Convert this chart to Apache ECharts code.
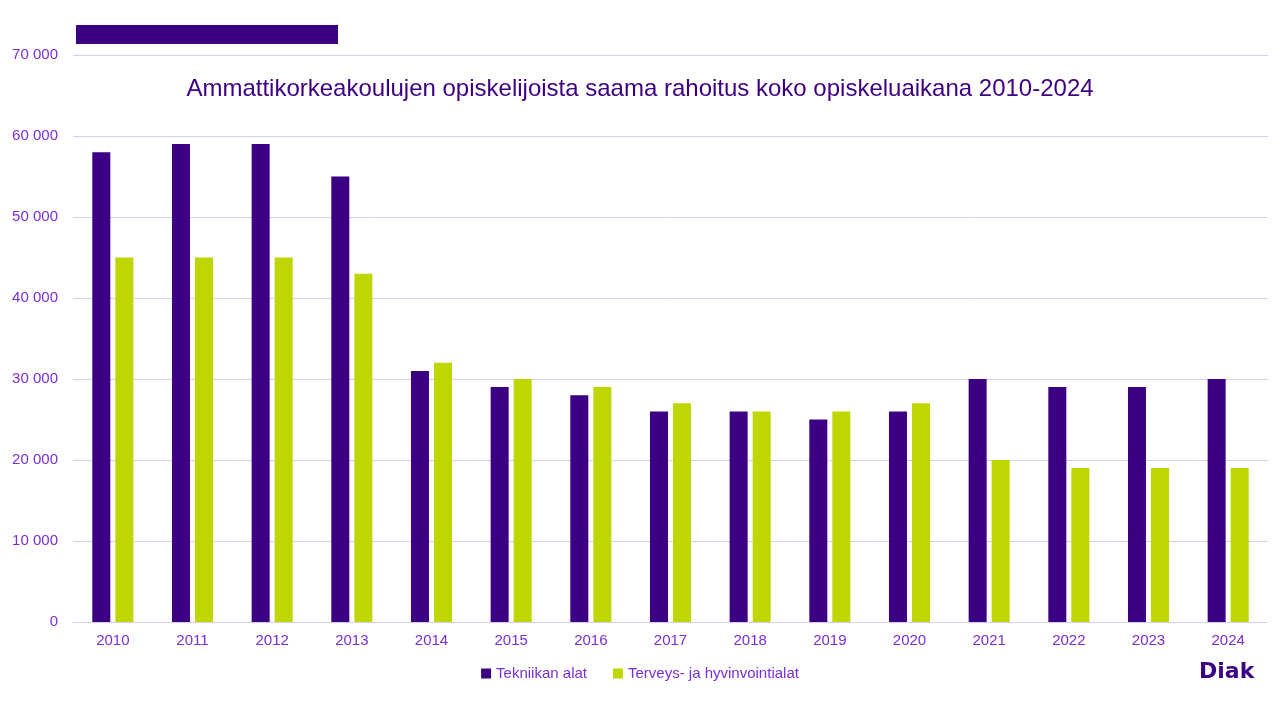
<!DOCTYPE html>
<html><head><meta charset="utf-8">
<script src="https://cdn.jsdelivr.net/npm/echarts@6/dist/echarts.min.js"></script>
<style>html,body{margin:0;padding:0;background:#fff}#c{width:1280px;height:720px}</style>
</head><body><div id="c"></div>
<script>
const years = ['2010','2011','2012','2013','2014','2015','2016','2017','2018','2019','2020','2021','2022','2023','2024'];
const tekniikka = [58000,59000,59000,55000,31000,29000,28000,26000,26000,25000,26000,30000,29000,29000,30000];
const terveys = [45000,45000,45000,43000,32000,30000,29000,27000,26000,26000,27000,20000,19000,19000,19000];
const seriesNames = ['Tekniikan alat','Terveys- ja hyvinvointialat'];
const titleText = 'Ammattikorkeakoulujen opiskelijoista saama rahoitus koko opiskeluaikana 2010-2024';

const chart = echarts.init(document.getElementById('c'));
const font = '"Liberation Sans", Arial, sans-serif';
chart.setOption({
  animation:false,
  backgroundColor:'#fff',
  title:{text:titleText,left:'center',top:72,textStyle:{color:'#3d0080',fontSize:24,fontWeight:'normal',fontFamily:font}},
  legend:{bottom:34,left:'center',itemWidth:10,itemHeight:10,itemGap:26,icon:'rect',
    textStyle:{color:'#7a2fd6',fontSize:15,fontFamily:font}},
  grid:{left:73,right:12,top:55,bottom:98,containLabel:false},
  xAxis:{type:'category',data:years,axisLine:{show:true,lineStyle:{color:'#d8ccee'}},axisTick:{show:false},
    axisLabel:{color:'#7a2fd6',fontSize:15,fontFamily:font,margin:11}},
  yAxis:{type:'value',min:0,max:70000,interval:10000,
    axisLabel:{color:'#7a2fd6',fontSize:15,fontFamily:font,margin:15,formatter:v=>v===0?'0':String(v).replace(/\B(?=(\d{3})+(?!\d))/g,' ')},
    splitLine:{lineStyle:{color:'#d8ccee'}},axisLine:{show:false},axisTick:{show:false}},
  series:[
    {name:seriesNames[0],type:'bar',data:tekniikka,barWidth:18,barGap:'28%',itemStyle:{color:'#3b0083'}},
    {name:seriesNames[1],type:'bar',data:terveys,barWidth:18,itemStyle:{color:'#bfd600'}}
  ],
  graphic:[
    {type:'rect',left:76,top:25,shape:{width:262,height:19},style:{fill:'#3b0083'}},
    {type:'text',left:1199,top:661,style:{text:'Diak',fill:'#3b0083',font:'900 22px "DejaVu Sans", sans-serif'}}
  ]
});
</script></body></html>
